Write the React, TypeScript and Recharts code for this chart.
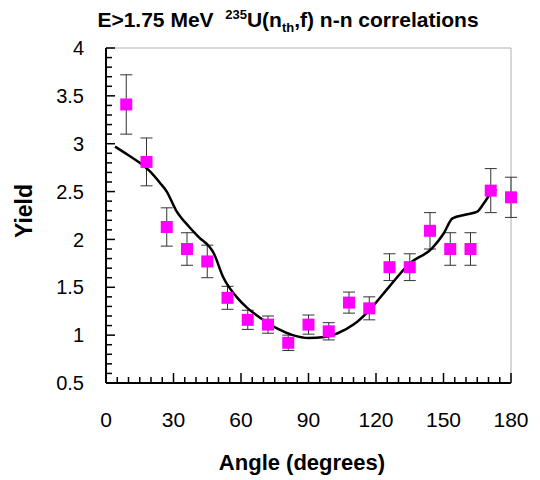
import React from 'react';
import { ComposedChart, Scatter, Line, XAxis, YAxis, ErrorBar, ReferenceLine } from 'recharts';

// measured points
const angles = [9, 18, 27, 36, 45, 54, 63, 72, 81, 90, 99, 108, 117, 126, 135, 144, 153, 162, 171, 180];
const yields = [3.41, 2.81, 2.13, 1.9, 1.77, 1.39, 1.16, 1.11, 0.92, 1.11, 1.04, 1.34, 1.28, 1.71, 1.71, 2.09, 1.9, 1.9, 2.51, 2.44];
const errors = [0.31, 0.25, 0.2, 0.17, 0.17, 0.12, 0.1, 0.09, 0.08, 0.1, 0.09, 0.11, 0.12, 0.14, 0.14, 0.19, 0.17, 0.17, 0.23, 0.21];

// calculated curve
const curveAngles = [4, 10, 15, 20, 24, 27, 31, 37, 41, 48, 52, 58, 63, 68, 76, 83, 90, 97, 103, 110, 117, 126, 135, 145, 150, 154, 160, 165, 168, 171, 173.5];
const curveYields = [2.97, 2.88, 2.8, 2.7, 2.59, 2.5, 2.31, 2.13, 2.03, 1.85, 1.61, 1.4, 1.28, 1.19, 1.07, 1.0, 0.97, 0.98, 1.02, 1.11, 1.26, 1.51, 1.75, 1.91, 2.06, 2.22, 2.26, 2.29, 2.38, 2.48, 2.52];

const xMajorTicks = [0, 30, 60, 90, 120, 150, 180];
const yMajorTicks = [0.5, 1, 1.5, 2, 2.5, 3, 3.5, 4];

// minor tick positions (every 5 degrees / every 0.1)
const xTicks = Array.from({ length: 37 }, (_, i) => i * 5);
const yTicks = Array.from({ length: 36 }, (_, i) => Math.round((0.5 + i * 0.1) * 10) / 10);

const points = angles.map((a, i) => ({ angle: a, yield: yields[i], err: errors[i] }));
const curve = curveAngles.map((a, i) => ({ angle: a, yield: curveYields[i] }));

const FONT = 'Arial, "Liberation Sans", sans-serif';

// ticks point inward, like the original
const YTick = (props: any) => {
  const { x, y, payload } = props;
  const major = yMajorTicks.includes(payload.value);
  return (
    <g>
      <rect x={x} y={y - 0.75} width={major ? 9 : 6} height={1.5} fill="#000" />
      {major && (
        <text x={x - 22} y={y} dy="0.36em" textAnchor="end" fontSize={20} fontFamily={FONT} fill="#000">
          {String(payload.value)}
        </text>
      )}
    </g>
  );
};

const XTick = (props: any) => {
  const { x, y, payload } = props;
  const major = xMajorTicks.includes(payload.value);
  const len = major ? 10 : 6;
  return (
    <g>
      <rect x={x - 0.75} y={y - len} width={1.5} height={len} fill="#000" />
      {major && (
        <text x={x} y={y + 36} dy="0.36em" textAnchor="middle" fontSize={21} fontFamily={FONT} fill="#000">
          {String(payload.value)}
        </text>
      )}
    </g>
  );
};

const Square = (props: any) => {
  const { cx, cy } = props;
  return <rect x={cx - 6} y={cy - 6} width={12} height={12} fill="#FF00FF" />;
};

export default function App() {
  return (
    <div style={{ position: 'relative', width: 532, height: 472, fontFamily: FONT, background: '#fff' }}>
      <ComposedChart width={532} height={472} margin={{ top: 40, right: 29, bottom: 0, left: 0 }}>
        <XAxis
          type="number"
          dataKey="angle"
          domain={[0, 180]}
          ticks={xTicks}
          interval={0}
          height={97}
          tickSize={0}
          tickMargin={0}
          tickLine={false}
          tick={<XTick />}
          axisLine={{ stroke: '#000', strokeWidth: 2 }}
        />
        <YAxis
          type="number"
          dataKey="yield"
          domain={[0.5, 4]}
          ticks={yTicks}
          interval={0}
          width={98}
          tickSize={0}
          tickMargin={0}
          tickLine={false}
          tick={<YTick />}
          axisLine={{ stroke: '#000', strokeWidth: 2 }}
        />
        <ReferenceLine y={4} stroke="#b0b0b0" strokeWidth={1} />
        <ReferenceLine x={180} stroke="#b0b0b0" strokeWidth={1} />
        <Scatter data={points} dataKey="yield" shape={<Square />} isAnimationActive={false}>
          <ErrorBar dataKey="err" direction="y" width={6} stroke="#333" strokeWidth={1} />
        </Scatter>
        <Line
          data={curve}
          dataKey="yield"
          type="monotone"
          stroke="#000"
          strokeWidth={2.5}
          dot={false}
          activeDot={false}
          isAnimationActive={false}
        />
      </ComposedChart>
      <div
        style={{
          position: 'absolute',
          left: 30,
          top: 1,
          width: 500,
          textAlign: 'center',
          fontWeight: 'bold',
          fontSize: 21,
          lineHeight: '22px',
          whiteSpace: 'nowrap',
        }}
      >
        E&gt;1.75 MeV&nbsp;&nbsp;<span style={{ fontSize: 13, verticalAlign: 8, lineHeight: 0 }}>235</span>U(n
        <span style={{ fontSize: 13, verticalAlign: -5, lineHeight: 0 }}>th</span>,f) n-n correlations
      </div>
      <div
        style={{
          position: 'absolute',
          left: 16,
          top: 203,
          transform: 'translate(-50%, -50%) rotate(-90deg)',
          fontWeight: 'bold',
          fontSize: 23,
          whiteSpace: 'nowrap',
        }}
      >
        Yield
      </div>
      <div
        style={{
          position: 'absolute',
          left: 294,
          top: 455,
          transform: 'translate(-50%, -50%)',
          fontWeight: 'bold',
          fontSize: 22,
          whiteSpace: 'nowrap',
        }}
      >
        Angle (degrees)
      </div>
    </div>
  );
}
